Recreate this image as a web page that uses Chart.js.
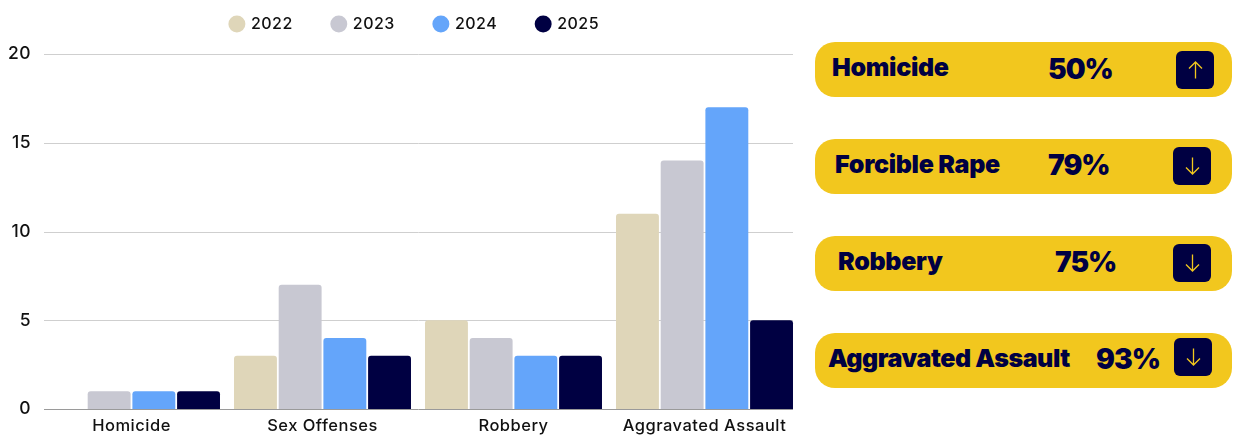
<!DOCTYPE html>
<html lang="en">

<head>
    <meta charset="UTF-8">
    <title>Crime by Year</title>
    <style>
        html, body {
            margin: 0;
            padding: 0;
            background: #fff;
            overflow: hidden;
        }

        #wrap {
            position: relative;
            width: 1235px;
            height: 437px;
            font-family: Inter, sans-serif;
        }

        #chartBox {
            position: absolute;
            left: 0;
            top: 0;
            width: 800px;
            height: 437px;
        }

        .card {
            position: absolute;
            left: 815px;
            width: 417px;
            height: 55px;
            border-radius: 20px;
            background: #f2c71e;
            color: #000042;
            font-weight: 900;
        }

        .card span {
            position: absolute;
            white-space: nowrap;
            line-height: 30px;
        }

        .card .name {
            font-size: 25px;
            letter-spacing: -0.3px;
        }

        .card .pct {
            font-size: 28px;
            letter-spacing: -1px;
        }

        .card .btn {
            position: absolute;
            width: 38px;
            height: 38px;
            border-radius: 6px;
            background: #000042;
        }

        .card:nth-child(2) { top: 42px; }
        .card:nth-child(3) { top: 139px; }
        .card:nth-child(4) { top: 236px; }
        .card:nth-child(5) { top: 333px; }

        .card:nth-child(2) .name { left: 17px; top: 10px; }
        .card:nth-child(3) .name { left: 20px; top: 10px; }
        .card:nth-child(4) .name { left: 23px; top: 10px; }
        .card:nth-child(5) .name { left: 13px; top: 10px; letter-spacing: -0.45px; }

        .card:nth-child(2) .pct { left: 233px; top: 12px; }
        .card:nth-child(3) .pct { left: 233px; top: 11px; }
        .card:nth-child(4) .pct { left: 240px; top: 11px; }
        .card:nth-child(5) .pct { left: 281px; top: 11px; }

        .card:nth-child(2) .btn { left: 361px; top: 9px; }
        .card:nth-child(3) .btn { left: 358px; top: 8px; }
        .card:nth-child(4) .btn { left: 358px; top: 8px; }
        .card:nth-child(5) .btn { left: 359px; top: 5px; }
    </style>
</head>

<body>
    <div id="wrap">
        <div id="chartBox"><canvas id="crimeChart"></canvas></div>
    </div>

    <script src="https://cdn.jsdelivr.net/npm/chart.js"></script>
    <script>
        const categories = ["Homicide", "Sex Offenses", "Robbery", "Aggravated Assault"];
        const years = ["2022", "2023", "2024", "2025"];
        const values2022 = [0, 3, 5, 11];
        const values2023 = [1, 7, 4, 14];
        const values2024 = [1, 4, 3, 17];
        const values2025 = [1, 3, 3, 5];
        const yearColors = ["#dfd6b9", "#c8c8d2", "#64a5fa", "#000042"];

        const cardNames = ["Homicide", "Forcible Rape", "Robbery", "Aggravated Assault"];
        const cardPercents = ["50%", "79%", "75%", "93%"];
        const cardArrows = ["up", "down", "down", "down"];

        const labelFont = { family: "Inter, sans-serif", size: 16.5, weight: "500" };

        // side cards
        const wrap = document.getElementById("wrap");
        cardNames.forEach((name, i) => {
            const d = cardArrows[i] === "up" ? "M19.5 27.5V11M13 17.5l6.5-6.5 6.5 6.5" : "M19.5 10.5V27M13 20.5l6.5 6.5 6.5-6.5";
            const card = document.createElement("div");
            card.className = "card";
            card.innerHTML = `<span class="name">${name}</span><span class="pct">${cardPercents[i]}</span>` +
                `<div class="btn"><svg width="38" height="38"><path d="${d}" fill="none" stroke="#f2c71e" stroke-width="1.3"/></svg></div>`;
            wrap.appendChild(card);
        });

        // gridlines stop short of the plot edges in the original, so they are drawn here
        const shortGrid = {
            id: "shortGrid",
            beforeDatasetsDraw(chart) {
                const ctx = chart.ctx;
                const y = chart.scales.y;
                ctx.save();
                y.ticks.forEach(t => {
                    const py = Math.round(y.getPixelForValue(t.value)) + 0.5;
                    ctx.strokeStyle = t.value === 0 ? "#9a9a9a" : "#cfcfcf";
                    ctx.lineWidth = 1;
                    ctx.beginPath();
                    ctx.moveTo(44, py);
                    ctx.lineTo(793, py);
                    ctx.stroke();
                });
                ctx.restore();
            }
        };

        // legend needs wide gaps between items without the same padding above and below,
        // and sits a bit right of the canvas centre
        const legendTweak = {
            id: "legendTweak",
            beforeInit(chart) {
                const legend = chart.legend;
                const fit = legend.fit;
                const draw = legend.draw;
                legend.fit = function () {
                    fit.call(this);
                    this.height = 78;
                };
                legend.draw = function () {
                    chart.ctx.save();
                    chart.ctx.translate(15, 0);
                    draw.call(this);
                    chart.ctx.restore();
                };
            }
        };

        // the labels run wider than Inter does on its own
        const wideText = {
            id: "wideText",
            beforeLayout(chart) { chart.ctx.letterSpacing = "0.5px"; },
            beforeDraw(chart) { chart.ctx.letterSpacing = "0.5px"; }
        };

        new Chart(document.getElementById("crimeChart"), {
            type: "bar",
            data: {
                labels: categories,
                datasets: [values2022, values2023, values2024, values2025].map((values, i) => ({
                    label: years[i],
                    data: values,
                    backgroundColor: yearColors[i],
                    borderRadius: 3,
                    categoryPercentage: 0.936,
                    barPercentage: 0.96
                }))
            },
            plugins: [shortGrid, legendTweak, wideText],
            options: {
                responsive: true,
                maintainAspectRatio: false,
                animation: false,
                layout: { padding: { top: -24 } },
                plugins: {
                    tooltip: { enabled: false },
                    legend: {
                        position: "top",
                        labels: {
                            usePointStyle: true,
                            boxWidth: 12,
                            boxHeight: 12,
                            padding: 40,
                            color: "#111",
                            font: { family: "Inter, sans-serif", size: 16, weight: "500" }
                        }
                    }
                },
                scales: {
                    x: {
                        grid: { display: false, drawTicks: false },
                        border: { display: false },
                        afterFit: s => { s.height = 28; },
                        ticks: { color: "#111", font: labelFont, padding: 7, maxRotation: 0, autoSkip: false }
                    },
                    y: {
                        min: 0,
                        max: 20,
                        grid: { display: false, drawTicks: false },
                        border: { display: false },
                        afterFit: s => { s.width = 36; },
                        ticks: { stepSize: 5, color: "#111", padding: 5, font: { family: "Inter, sans-serif", size: 17.5, weight: "500" } }
                    }
                }
            }
        });
    </script>
</body>

</html>
